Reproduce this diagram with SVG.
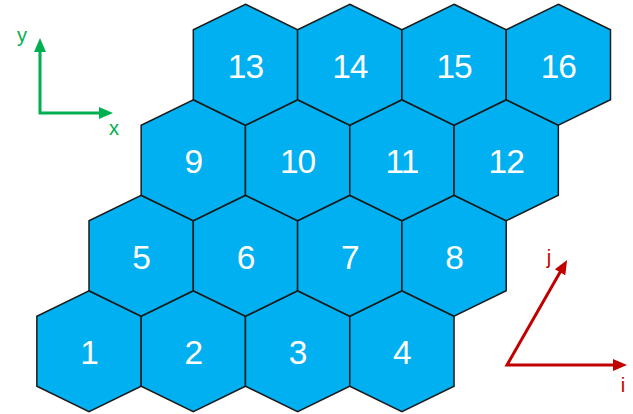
<svg xmlns="http://www.w3.org/2000/svg" xmlns:xlink="http://www.w3.org/1999/xlink" width="633" height="414" viewBox="0 0 633 414">
<style>
.hex{fill:#00B0F0;stroke:#1b1b1b;stroke-width:1.5;stroke-linejoin:miter}
.lbl{font-family:"Liberation Sans",Arial,sans-serif;font-size:33.5px;letter-spacing:-1px;fill:#ffffff;text-anchor:middle}
.ax{fill:none;stroke-width:3;stroke-linejoin:miter}
.g{stroke:#00B050}
.r{stroke:#C00000}
.axl{font-family:"Liberation Sans",Arial,sans-serif;font-size:20px;text-anchor:middle}
</style>
<defs>
<polygon id="h" points="0,-60.5 52.15,-35 52.15,35 0,60.5 -52.15,35 -52.15,-35"/>
<marker id="ag" markerUnits="userSpaceOnUse" markerWidth="16" markerHeight="16" refX="0" refY="0" viewBox="0 -8 16 16" orient="auto-start-reverse" overflow="visible"><path d="M-1,-6 L13,0 L-1,6 z" fill="#00B050"/></marker>
<marker id="ar" markerUnits="userSpaceOnUse" markerWidth="16" markerHeight="16" refX="0" refY="0" viewBox="0 -8 16 16" orient="auto-start-reverse" overflow="visible"><path d="M-1,-6 L13,0 L-1,6 z" fill="#C00000"/></marker>
</defs>
<g id="nodes">
<g id="n1" transform="translate(89,351.25)"><use xlink:href="#h" class="hex"/><text class="lbl" y="13">1</text></g>
<g id="n2" transform="translate(193.3,351.25)"><use xlink:href="#h" class="hex"/><text class="lbl" y="13">2</text></g>
<g id="n3" transform="translate(297.6,351.25)"><use xlink:href="#h" class="hex"/><text class="lbl" y="13">3</text></g>
<g id="n4" transform="translate(401.9,351.25)"><use xlink:href="#h" class="hex"/><text class="lbl" y="13">4</text></g>
<g id="n5" transform="translate(141.15,255.75)"><use xlink:href="#h" class="hex"/><text class="lbl" y="13">5</text></g>
<g id="n6" transform="translate(245.45,255.75)"><use xlink:href="#h" class="hex"/><text class="lbl" y="13">6</text></g>
<g id="n7" transform="translate(349.75,255.75)"><use xlink:href="#h" class="hex"/><text class="lbl" y="13">7</text></g>
<g id="n8" transform="translate(454.05,255.75)"><use xlink:href="#h" class="hex"/><text class="lbl" y="13">8</text></g>
<g id="n9" transform="translate(193.3,160.25)"><use xlink:href="#h" class="hex"/><text class="lbl" y="13">9</text></g>
<g id="n10" transform="translate(297.6,160.25)"><use xlink:href="#h" class="hex"/><text class="lbl" y="13">10</text></g>
<g id="n11" transform="translate(401.9,160.25)"><use xlink:href="#h" class="hex"/><text class="lbl" y="13">11</text></g>
<g id="n12" transform="translate(506.2,160.25)"><use xlink:href="#h" class="hex"/><text class="lbl" y="13">12</text></g>
<g id="n13" transform="translate(245.45,64.75)"><use xlink:href="#h" class="hex"/><text class="lbl" y="13">13</text></g>
<g id="n14" transform="translate(349.75,64.75)"><use xlink:href="#h" class="hex"/><text class="lbl" y="13">14</text></g>
<g id="n15" transform="translate(454.05,64.75)"><use xlink:href="#h" class="hex"/><text class="lbl" y="13">15</text></g>
<g id="n16" transform="translate(558.35,64.75)"><use xlink:href="#h" class="hex"/><text class="lbl" y="13">16</text></g>
</g>
<g id="connectors">
<path class="ax g" d="M40,51 L40,113 L100,113" marker-start="url(#ag)" marker-end="url(#ag)"/>
<path class="ax r" d="M560.6,271.3 L507,365 L614,365" marker-start="url(#ar)" marker-end="url(#ar)"/>
</g>
<g id="labels">
<text class="axl" x="22" y="42" fill="#00B050">y</text>
<text class="axl" x="114" y="135" fill="#00B050">x</text>
<text class="axl" x="549" y="264" fill="#C00000">j</text>
<text class="axl" x="623" y="392" fill="#C00000">i</text>
</g>
</svg>
